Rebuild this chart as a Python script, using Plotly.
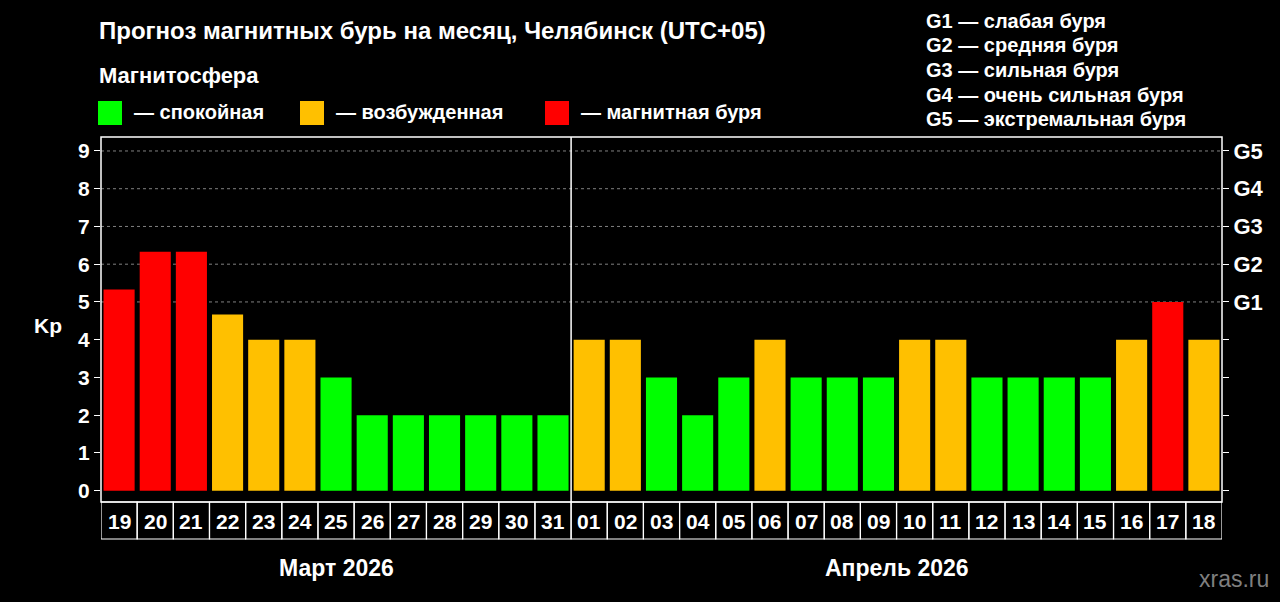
import plotly.graph_objects as go

days = ["19","20","21","22","23","24","25","26","27","28","29","30","31",
        "01","02","03","04","05","06","07","08","09","10","11","12","13","14","15","16","17","18"]
kp = [5.33, 6.33, 6.33, 4.67, 4, 4, 3, 2, 2, 2, 2, 2, 2,
      4, 4, 3, 2, 3, 4, 3, 3, 3, 4, 4, 3, 3, 3, 3, 4, 5, 4]
months = ["Март 2026", "Апрель 2026"]
month_sizes = [13, 18]
y_ticks = [0, 1, 2, 3, 4, 5, 6, 7, 8, 9]
g_labels = ["", "", "", "", "", "G1", "G2", "G3", "G4", "G5"]
legend_items = ["— спокойная", "— возбужденная", "— магнитная буря"]
g_legend = ["G1 — слабая буря", "G2 — средняя буря", "G3 — сильная буря",
            "G4 — очень сильная буря", "G5 — экстремальная буря"]

GREEN, ORANGE, RED = "#00FF00", "#FFC000", "#FF0000"
def color_of(v):
    if v >= 5:
        return RED
    if v >= 4:
        return ORANGE
    return GREEN

FONT = "Liberation Sans, Arial, sans-serif"
x_idx = list(range(len(days)))

fig = go.Figure()
fig.add_trace(go.Bar(x=x_idx, y=kp, marker=dict(color=[color_of(v) for v in kp], line=dict(width=0)),
                     width=0.86, showlegend=False, hoverinfo="skip"))
fig.add_trace(go.Scatter(x=[0], y=[0], yaxis="y2", mode="markers", marker=dict(opacity=0),
                         showlegend=False, hoverinfo="skip"))

L, R, T, B = 101, 58, 137, 100
W, H = 1280, 602
ph = H - T - B

def py(pix):
    return (H - B - pix) / ph

def px(pix):
    return (pix - L) / (W - L - R)

def txt(x, y, text, size, xanchor="left", color="white", bold=True, xref="paper"):
    return dict(x=x, y=y, xref=xref, yref="paper", xanchor=xanchor, yanchor="middle",
                text=f"<b>{text}</b>" if bold else text, showarrow=False,
                font=dict(size=size, color=color, family=FONT))

shapes = []
for v in y_ticks:
    if v >= 5:
        shapes.append(dict(type="line", xref="paper", yref="y", x0=0, x1=1, y0=v, y1=v,
                           line=dict(color="#808080", width=1, dash="3px,3px"), layer="below"))
shapes.append(dict(type="line", xref="x", yref="paper", x0=12.5, x1=12.5, y0=0, y1=1,
                   line=dict(color="white", width=1.5)))
shapes.append(dict(type="rect", xref="paper", yref="paper", x0=0, x1=1, y0=0, y1=1,
                   line=dict(color="white", width=1.5)))
for i in x_idx:
    shapes.append(dict(type="rect", xref="x", yref="paper", x0=i - 0.5, x1=i + 0.5,
                       y0=py(539), y1=py(502), line=dict(color="white", width=1.2)))

annotations = []
for i, d in enumerate(days):
    annotations.append(txt(i, py(521), d, 21, xanchor="center", xref="x"))
start = 0
for m, n in zip(months, month_sizes):
    c = start + (n - 1) / 2
    annotations.append(txt(c, py(568), m, 23, xanchor="center", xref="x"))
    start += n

annotations.append(txt(px(97), py(30), "Прогноз магнитных бурь на месяц, Челябинск (UTC+05)", 24))
annotations.append(txt(px(97), py(75), "Магнитосфера", 22))
sq_x = [98, 300, 545]
sq_c = [GREEN, ORANGE, RED]
for x0, c, t in zip(sq_x, sq_c, legend_items):
    shapes.append(dict(type="rect", xref="paper", yref="paper", x0=px(x0), x1=px(x0 + 24),
                       y0=py(125), y1=py(101), fillcolor=c, line=dict(width=0)))
    annotations.append(txt(px(x0 + 34), py(112), t, 20))
for k, t in enumerate(g_legend):
    annotations.append(txt(px(924), py(21 + k * 24.5), t, 20))
annotations.append(txt(px(48), py(325), "Kp", 21, xanchor="center"))
annotations.append(txt(px(1271), py(579), "xras.ru", 23, xanchor="right", color="#7f7f7f", bold=False))

yr = [-0.3, 9.37]
fig.update_layout(
    width=W, height=H, paper_bgcolor="black", plot_bgcolor="black",
    margin=dict(l=L, r=R, t=T, b=B), bargap=0.14,
    font=dict(family=FONT, color="white"),
    xaxis=dict(range=[-0.5, len(days) - 0.5], showticklabels=False, showgrid=False,
               zeroline=False, ticks="", showline=False),
    yaxis=dict(range=yr, tickvals=y_ticks, ticktext=[f"<b>{v}</b>" for v in y_ticks],
               ticks="outside", ticklen=6, tickcolor="white", tickwidth=1.2,
               showgrid=False, zeroline=False, showline=False,
               tickfont=dict(size=21, color="white", family=FONT)),
    yaxis2=dict(range=yr, overlaying="y", side="right", tickvals=y_ticks,
                ticktext=[f"<b>{g}</b>" if g else "" for g in g_labels],
                ticks="outside", ticklen=6, tickcolor="white", tickwidth=1.2,
                showgrid=False, zeroline=False, showline=False,
                tickfont=dict(size=22, color="white", family=FONT)),
    shapes=shapes, annotations=annotations,
)
fig.write_html("out.html", config={"displayModeBar": False},
               post_script="document.body.style.margin='0';document.body.style.overflow='hidden';")
